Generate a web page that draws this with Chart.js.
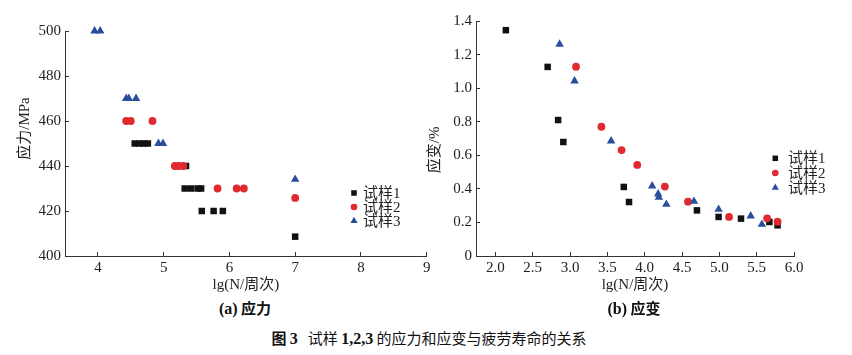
<!DOCTYPE html>
<html><head><meta charset="utf-8">
<script src="https://cdn.jsdelivr.net/npm/chart.js@4.4.0/dist/chart.umd.min.js"></script>
<style>
html,body{margin:0;padding:0;background:#fff;}
#wrap{position:relative;width:852px;height:355px;overflow:hidden;background:#fff;}
canvas{position:absolute;}
.cap{position:absolute;white-space:nowrap;transform:translate(-50%,-50%);color:#111;font-family:"Noto Sans CJK SC",sans-serif;}
.sub{font-size:15px;font-weight:bold;}
.sub .l{font-family:"Liberation Serif",serif;font-weight:bold;font-size:16px;}
.fig{font-size:15px;}
.fig .n{font-family:"Liberation Serif",serif;font-weight:bold;font-size:16px;}
</style></head><body>
<div id="wrap">
<canvas id="ca" width="440" height="296" style="left:0;top:0;width:440px;height:296px"></canvas>
<canvas id="cb" width="432" height="296" style="left:420px;top:0;width:432px;height:296px"></canvas>
<div class="cap sub" style="left:245px;top:307px"><span class="l">(a)</span> 应力</div>
<div class="cap sub" style="left:634px;top:307px"><span class="l">(b)</span> 应变</div>
<div class="cap fig" style="left:429px;top:337px"><b>图 <span class="n">3</span></b>&nbsp;&nbsp;&nbsp;试样 <span class="n">1,2,3</span> 的应力和应变与疲劳寿命的关系</div>
</div>
<script>
// ---- data ----
const seriesNames = ['试样1', '试样2', '试样3'];

const stressTicksX = [4, 5, 6, 7, 8, 9];
const stressTicksY = [400, 420, 440, 460, 480, 500];
const strainTicksX = [2.0, 2.5, 3.0, 3.5, 4.0, 4.5, 5.0, 5.5, 6.0];
const strainTicksY = [0, 0.2, 0.4, 0.6, 0.8, 1.0, 1.2, 1.4];

const stress1X = [4.56, 4.63, 4.70, 4.76, 5.20, 5.34, 5.32, 5.42, 5.52, 5.57, 5.58, 5.76, 5.90, 7.0];
const stress1Y = [450, 450, 450, 450, 440, 440, 430, 430, 430, 430, 420, 420, 420, 408.6];
const stress2X = [4.43, 4.50, 4.83, 5.17, 5.23, 5.30, 5.82, 6.11, 6.22, 7.0];
const stress2Y = [460, 460, 460, 440, 440, 440, 430, 430, 430, 425.8];
const stress3X = [3.95, 4.035, 4.43, 4.47, 4.58, 4.92, 4.99, 7.0];
const stress3Y = [500, 500, 470, 470, 470, 450, 450, 434.1];

const strain1X = [2.14, 2.70, 2.84, 2.91, 3.72, 3.79, 4.70, 4.99, 5.29, 5.67, 5.78];
const strain1Y = [1.347, 1.128, 0.811, 0.680, 0.412, 0.322, 0.272, 0.233, 0.223, 0.203, 0.183];
const strain2X = [3.08, 3.42, 3.69, 3.90, 4.27, 4.58, 5.13, 5.64, 5.78];
const strain2Y = [1.129, 0.771, 0.632, 0.543, 0.414, 0.324, 0.233, 0.225, 0.205];
const strain3X = [2.86, 3.06, 3.55, 4.10, 4.18, 4.19, 4.29, 4.66, 4.99, 5.42, 5.57];
const strain3Y = [1.263, 1.044, 0.686, 0.418, 0.370, 0.350, 0.308, 0.326, 0.278, 0.239, 0.189];

// ---- styles ----
const COLORS = ['#111111', '#e02a2f', '#2b4d9f'];
const STYLES = ['rect', 'circle', 'triangle'];
const RADII = [4.6, 3.9, 4.9];
const ORDERS = [2, 1, 0];
const TICK_FONT = {family: '"Liberation Serif", serif', size: 15};
const TITLE_FONT = {family: '"Liberation Serif", "Noto Sans CJK SC", serif', size: 15};
const INK = '#222';

function pts(xs, ys) { return xs.map((x, i) => ({x: x, y: ys[i]})); }
function datasets(pairs) {
  return pairs.map((p, i) => ({
    label: seriesNames[i],
    data: pts(p[0], p[1]),
    pointStyle: STYLES[i],
    pointRadius: RADII[i],
    pointHoverRadius: RADII[i],
    backgroundColor: COLORS[i],
    borderColor: COLORS[i],
    pointBorderWidth: 0,
    borderWidth: 0,
    order: ORDERS[i],
    clip: false,
    showLine: false
  }));
}

const insideLegend = {
  id: 'insideLegend',
  afterDraw(chart, args, o) {
    const ctx = chart.ctx;
    ctx.save();
    ctx.font = '15px "Liberation Serif", "Noto Sans CJK SC", serif';
    ctx.textBaseline = 'middle';
    ctx.textAlign = 'left';
    chart.data.datasets.forEach((ds, i) => {
      const y = o.y + i * o.gap;
      ctx.fillStyle = ds.backgroundColor;
      ctx.strokeStyle = ds.borderColor;
      Chart.helpers.drawPoint(ctx, {pointStyle: ds.pointStyle, radius: ds.pointRadius * 0.85, borderWidth: 0, rotation: 0}, o.x, y);
      ctx.fillStyle = INK;
      ctx.fillText(ds.label, o.tx, y + 1);
    });
    ctx.restore();
  }
};

function axis(min, max, ticksArr, fmt, isX, fitSize, title, titlePad) {
  return {
    type: 'linear', min: min, max: max,
    afterBuildTicks: s => { s.ticks = ticksArr.map(v => ({value: v})); },
    afterFit: s => { if (isX) s.height = fitSize; else s.width = fitSize; },
    border: {display: true, color: '#333', width: 1},
    grid: {drawOnChartArea: false, drawTicks: true, tickLength: -4, color: '#333', tickColor: '#333'},
    ticks: {font: TICK_FONT, color: INK, padding: isX ? 7 : 8, maxRotation: 0, autoSkip: false, callback: fmt},
    title: {display: true, text: title, font: TITLE_FONT, color: INK, padding: titlePad}
  };
}

function baseOpts(pad, xs, ys, leg) {
  return {
    responsive: false, animation: false, devicePixelRatio: 1,
    layout: {padding: pad},
    plugins: {legend: {display: false}, tooltip: {enabled: false}, insideLegend: leg},
    scales: {x: xs, y: ys}
  };
}

new Chart(document.getElementById('ca'), {
  type: 'scatter',
  data: {datasets: datasets([[stress1X, stress1Y], [stress2X, stress2Y], [stress3X, stress3Y]])},
  options: baseOpts({left: 0, top: 31, right: 13.3, bottom: 0},
    axis(3.5, 9, stressTicksX, v => String(v), true, 40, 'lg(N/周次)', {top: 0, bottom: 2}),
    axis(400, 500, stressTicksY, v => String(v), false, 65, '\u3000\u3000应力/MPa', {top: 16, bottom: 0}),
    {x: 354, tx: 363, y: 193, gap: 14}),
  plugins: [insideLegend]
});

new Chart(document.getElementById('cb'), {
  type: 'scatter',
  data: {datasets: datasets([[strain1X, strain1Y], [strain2X, strain2Y], [strain3X, strain3Y]])},
  options: baseOpts({left: 0, top: 21.3, right: 58, bottom: 0},
    axis(1.74, 6.0, strainTicksX, v => Number(v).toFixed(1), true, 40, 'lg(N/周次)', {top: 0, bottom: 2}),
    axis(0, 1.4, strainTicksY, v => (v === 0 ? '0' : Number(v).toFixed(1)), false, 56, '应变/%\u3000\u2002', {top: 6, bottom: 0}),
    {x: 355.3, tx: 368, y: 158.3, gap: 14.7}),
  plugins: [insideLegend]
});
</script>
</body></html>
